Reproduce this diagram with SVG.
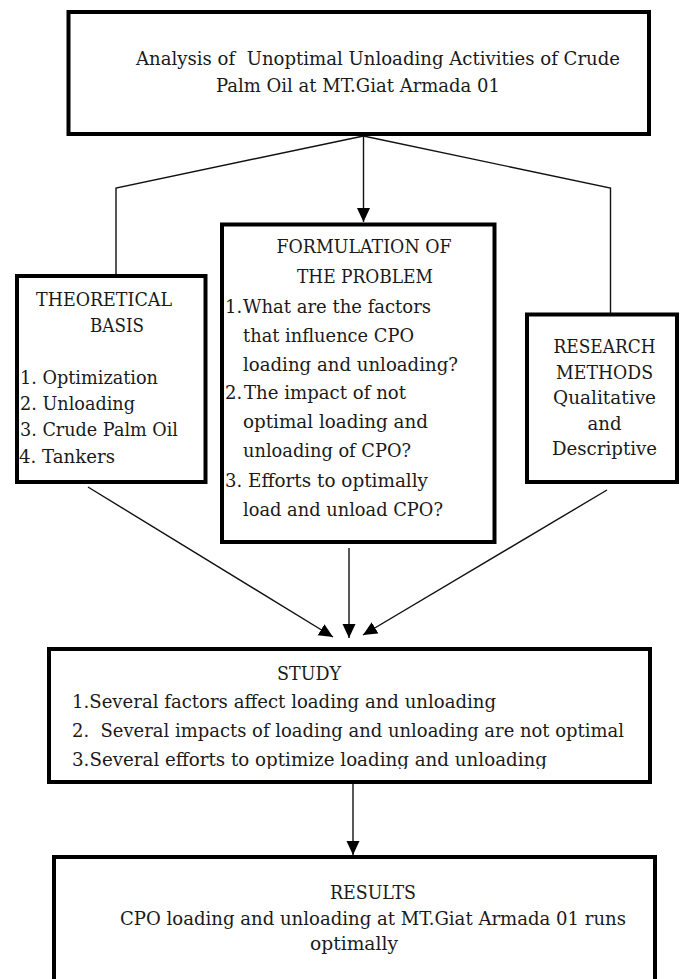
<svg xmlns="http://www.w3.org/2000/svg" width="681" height="979" viewBox="0 0 681 979" font-family="'DejaVu Serif', 'Liberation Serif', serif">
<style>
.box{fill:#fff;stroke:#000;stroke-width:4}
.t{font-size:18px;fill:#1a1a1a}
.c{text-anchor:middle}
.ln{fill:none;stroke:#111;stroke-width:1.4}
</style>
<defs>
<marker id="ah" markerUnits="userSpaceOnUse" markerWidth="16" markerHeight="14" refX="14" refY="6.5" orient="auto">
<path d="M0,0 L14,6.5 L0,13 Z" fill="#000"/>
</marker>
<clipPath id="studyclip"><rect x="49" y="649" width="601" height="120"/></clipPath>
</defs>
<rect width="681" height="979" fill="#fff"/>

<g id="connectors">
<line class="ln" x1="363.5" y1="136" x2="363.5" y2="222" marker-end="url(#ah)"/>
<polyline class="ln" points="363.5,136 116,188 116,276"/>
<polyline class="ln" points="363.5,136 610.5,188 610.5,314"/>
<line class="ln" x1="88" y1="487" x2="333" y2="637" marker-end="url(#ah)"/>
<line class="ln" x1="349" y1="548" x2="349" y2="638" marker-end="url(#ah)"/>
<line class="ln" x1="607" y1="490" x2="363" y2="635" marker-end="url(#ah)"/>
<line class="ln" x1="353" y1="784" x2="353" y2="855" marker-end="url(#ah)"/>
</g>

<g id="analysis">
<rect class="box" x="68.5" y="12" width="580.5" height="122"/>
<text class="t" x="136" y="65" xml:space="preserve" textLength="484" lengthAdjust="spacingAndGlyphs">Analysis of  Unoptimal Unloading Activities of Crude</text>
<text class="t" x="216" y="92" textLength="284" lengthAdjust="spacingAndGlyphs">Palm Oil at MT.Giat Armada 01</text>
</g>

<g id="theoretical-basis">
<rect class="box" x="17" y="276" width="188.5" height="206"/>
<text class="t" x="36" y="306" textLength="136" lengthAdjust="spacingAndGlyphs">THEORETICAL</text>
<text class="t" x="90" y="332" textLength="54" lengthAdjust="spacingAndGlyphs">BASIS</text>
<text class="t" x="20" y="384" textLength="138" lengthAdjust="spacingAndGlyphs">1. Optimization</text>
<text class="t" x="20" y="410" textLength="115" lengthAdjust="spacingAndGlyphs">2. Unloading</text>
<text class="t" x="20" y="436" textLength="158" lengthAdjust="spacingAndGlyphs">3. Crude Palm Oil</text>
<text class="t" x="19" y="463" textLength="96" lengthAdjust="spacingAndGlyphs">4. Tankers</text>
</g>

<g id="formulation">
<rect class="box" x="222" y="224.5" width="272.5" height="317.5"/>
<text class="t" x="276.5" y="253" textLength="175" lengthAdjust="spacingAndGlyphs">FORMULATION OF</text>
<text class="t" x="297" y="282.5" textLength="136" lengthAdjust="spacingAndGlyphs">THE PROBLEM</text>
<text class="t" x="225" y="313">1.</text>
<text class="t" x="243" y="313" textLength="188" lengthAdjust="spacingAndGlyphs">What are the factors</text>
<text class="t" x="243" y="342" textLength="171" lengthAdjust="spacingAndGlyphs">that influence CPO</text>
<text class="t" x="243" y="371" textLength="215" lengthAdjust="spacingAndGlyphs">loading and unloading?</text>
<text class="t" x="225" y="399">2.</text>
<text class="t" x="244" y="399" textLength="162" lengthAdjust="spacingAndGlyphs">The impact of not</text>
<text class="t" x="243" y="428" textLength="185" lengthAdjust="spacingAndGlyphs">optimal loading and</text>
<text class="t" x="243" y="457" textLength="168" lengthAdjust="spacingAndGlyphs">unloading of CPO?</text>
<text class="t" x="225" y="487">3.</text>
<text class="t" x="248" y="487" textLength="180" lengthAdjust="spacingAndGlyphs">Efforts to optimally</text>
<text class="t" x="243" y="516" textLength="200" lengthAdjust="spacingAndGlyphs">load and unload CPO?</text>
</g>

<g id="research-methods">
<rect class="box" x="527" y="314.5" width="150" height="167.5"/>
<text class="t c" x="604.5" y="353" textLength="102" lengthAdjust="spacingAndGlyphs">RESEARCH</text>
<text class="t c" x="604.5" y="378.5" textLength="97" lengthAdjust="spacingAndGlyphs">METHODS</text>
<text class="t c" x="604.5" y="404" textLength="103" lengthAdjust="spacingAndGlyphs">Qualitative</text>
<text class="t c" x="604.5" y="430" textLength="34" lengthAdjust="spacingAndGlyphs">and</text>
<text class="t c" x="604.5" y="455" textLength="105" lengthAdjust="spacingAndGlyphs">Descriptive</text>
</g>

<g id="study">
<rect class="box" x="49" y="649" width="601" height="133"/>
<text class="t" x="277" y="680" textLength="64" lengthAdjust="spacingAndGlyphs">STUDY</text>
<text class="t" x="72" y="708" textLength="424" lengthAdjust="spacingAndGlyphs">1.Several factors affect loading and unloading</text>
<text class="t" x="72" y="737" xml:space="preserve" textLength="552" lengthAdjust="spacingAndGlyphs">2.  Several impacts of loading and unloading are not optimal</text>
<text class="t" x="72" y="766" clip-path="url(#studyclip)" textLength="475" lengthAdjust="spacingAndGlyphs">3.Several efforts to optimize loading and unloading</text>
</g>

<g id="results">
<rect class="box" x="54" y="857" width="601" height="125"/>
<text class="t" x="330" y="899" textLength="86" lengthAdjust="spacingAndGlyphs">RESULTS</text>
<text class="t" x="120" y="925" textLength="506" lengthAdjust="spacingAndGlyphs">CPO loading and unloading at MT.Giat Armada 01 runs</text>
<text class="t" x="310" y="950" textLength="88" lengthAdjust="spacingAndGlyphs">optimally</text>
</g>
</svg>
